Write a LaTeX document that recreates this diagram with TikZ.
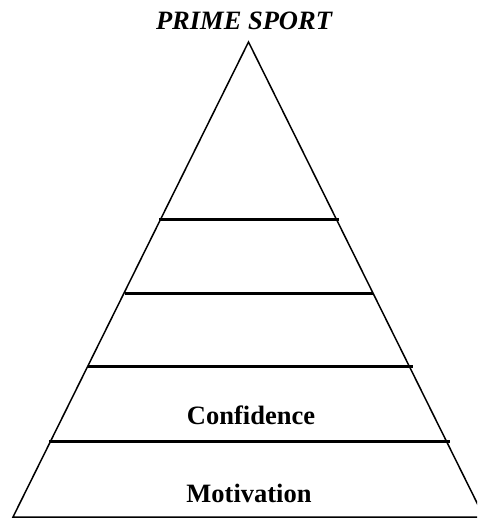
\documentclass[tikz,border=0pt]{standalone}
\usepackage{fontspec}
\setmainfont{Liberation Serif}
\begin{document}
\begin{tikzpicture}[x=1pt,y=-1pt,
  side/.style={line width=1.5pt,black},
  tier/.style={line width=3pt,black},
  lbl/.style={font=\fontsize{26.5}{29}\selectfont\bfseries, inner sep=0pt, anchor=base}]
\useasboundingbox (0,0) rectangle (477,519);
\begin{scope}
\clip (0,0) rectangle (477,519);
\coordinate (apex) at (248.5,42);
\coordinate (bl) at (13,517);
\coordinate (br) at (484,517);
\draw[side, line join=miter] (bl) -- (apex) -- (br) -- cycle;
\coordinate (a1) at (159,219); \coordinate (b1) at (339,219);
\coordinate (a2) at (125,293); \coordinate (b2) at (373,293);
\coordinate (a3) at (88,366);  \coordinate (b3) at (413,366);
\coordinate (a4) at (49,441);  \coordinate (b4) at (450,441);
\draw[tier] (a1) -- (b1);
\draw[tier] (a2) -- (b2);
\draw[tier] (a3) -- (b3);
\draw[tier] (a4) -- (b4);
\end{scope}
\node[lbl, font=\fontsize{26.5}{29}\selectfont\bfseries\itshape] (title) at (244,30) {PRIME SPORT};
\node[lbl] (conf) at (251,424) {Confidence};
\node[lbl] (motiv) at (249,502) {Motivation};
\end{tikzpicture}
\end{document}
